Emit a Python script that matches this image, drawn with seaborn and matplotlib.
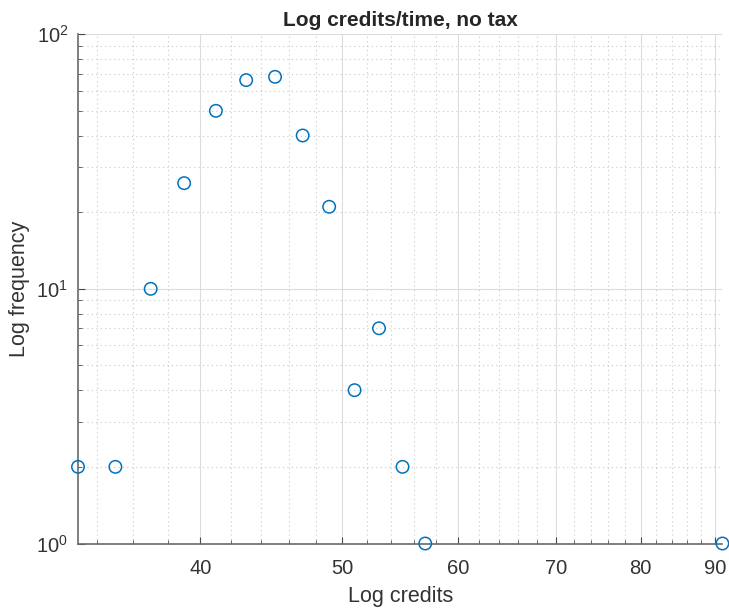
import matplotlib
matplotlib.use('Agg')
import matplotlib.pyplot as plt
import seaborn as sns
import pandas as pd
import numpy as np
from matplotlib.ticker import FixedLocator, LogLocator, LogFormatterSciNotation, NullFormatter

# values (log-log scatter)
credits = [33, 35, 37, 39, 41, 43, 45, 47, 49, 51, 53, 55, 57, 91]
frequency = [2, 2, 10, 26, 50, 66, 68, 40, 21, 4, 7, 2, 1, 1]

x_major = [40, 50, 60, 70, 80, 90]
x_minor = [v for v in range(34, 91, 2) if v not in x_major]

df = pd.DataFrame({'credits': credits, 'frequency': frequency})

sns.set_style('white')
plt.rcParams['font.family'] = ['Liberation Sans', 'DejaVu Sans']
plt.rcParams['mathtext.default'] = 'regular'

fig = plt.figure(figsize=(7.29, 6.10), dpi=100)
ax = fig.add_axes([0.107, 0.109, 0.884, 0.835])

sns.scatterplot(data=df, x='credits', y='frequency', ax=ax, marker='o', s=80,
                facecolor='none', edgecolor='#0072BD', linewidth=1.1, clip_on=False, zorder=5)

ax.set_xscale('log')
ax.set_yscale('log')
ax.set_xlim(min(credits), max(credits))
ax.set_ylim(1, 100)

ax.xaxis.set_major_locator(FixedLocator(x_major))
ax.xaxis.set_minor_locator(FixedLocator(x_minor))
ax.xaxis.set_major_formatter(matplotlib.ticker.FixedFormatter([str(v) for v in x_major]))
ax.xaxis.set_minor_formatter(NullFormatter())
ax.yaxis.set_major_locator(LogLocator(base=10))
ax.yaxis.set_minor_locator(LogLocator(base=10, subs=np.arange(2, 10)))
ax.yaxis.set_major_formatter(LogFormatterSciNotation())
ax.yaxis.set_minor_formatter(NullFormatter())

# matlab-like grid
ax.grid(True, which='major', color='#dcdcdc', linestyle='-', linewidth=0.8)
ax.grid(True, which='minor', color='#c8c8c8', linestyle=(0, (1, 3)), linewidth=0.8)
ax.set_axisbelow(True)

for side in ['top', 'right']:
    ax.spines[side].set_visible(False)
for side in ['left', 'bottom']:
    ax.spines[side].set_color('#6a6a6a')
    ax.spines[side].set_linewidth(1.2)

ax.tick_params(which='both', direction='in', colors='#4a4a4a', labelcolor='#333333',
               top=False, right=False, left=True, bottom=True)
ax.tick_params(which='major', length=5, labelsize=14.5)
ax.tick_params(axis='x', which='major', pad=11)
ax.tick_params(axis='y', which='major', pad=7)
ax.tick_params(which='minor', length=3)

ax.set_xlabel('Log credits', fontsize=15.5, color='#333333', labelpad=6)
ax.set_ylabel('Log frequency', fontsize=15.5, color='#333333', labelpad=5)
ax.set_title('Log credits/time, no tax', fontsize=15, fontweight='bold', pad=6)

plt.savefig('out.png', dpi=100)
